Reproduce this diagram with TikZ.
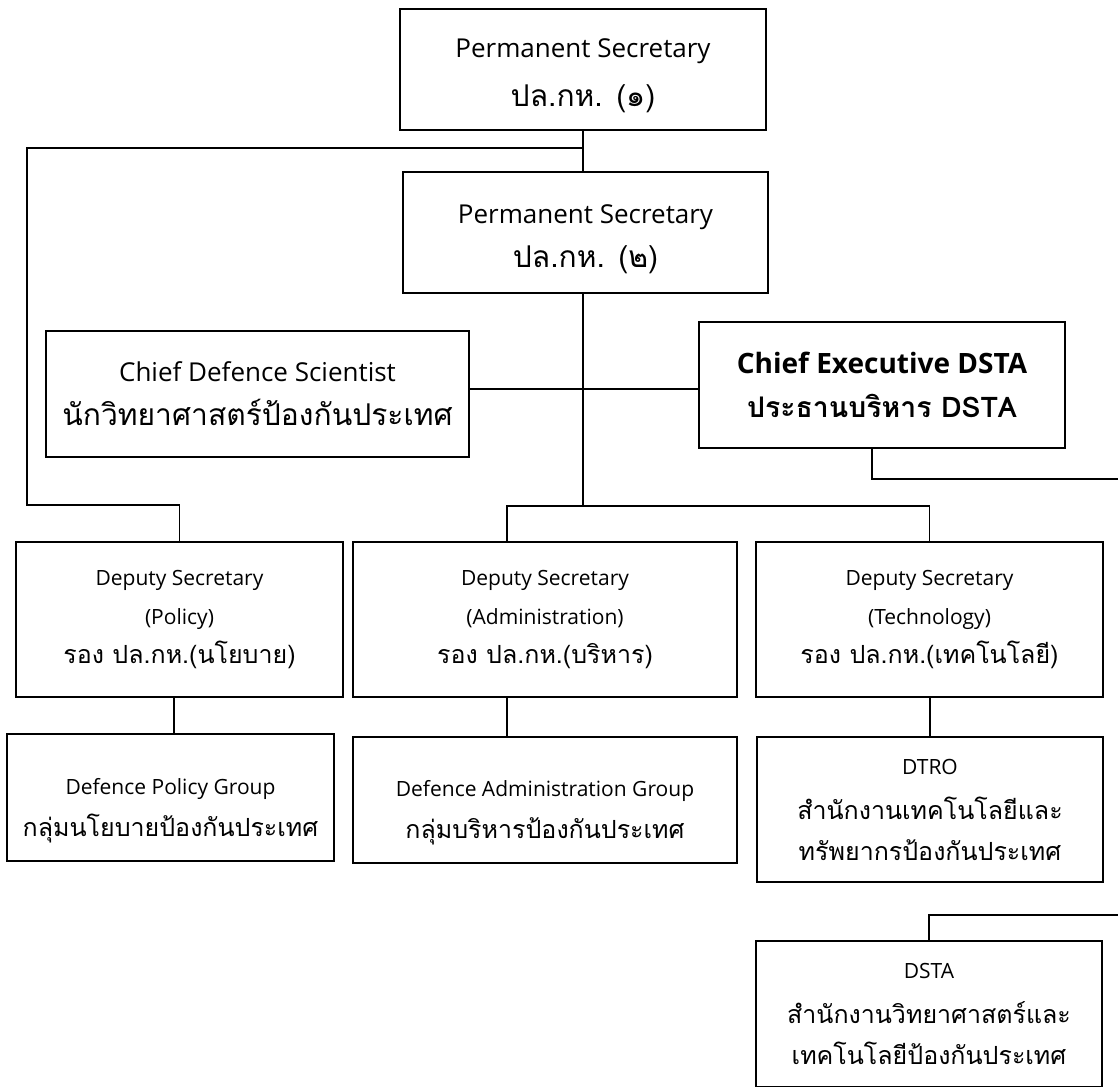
\documentclass[tikz,border=0pt]{standalone}
\usepackage{fontspec}
\setmainfont{Open Sans}
\newfontfamily\thaifont[Script=Thai]{Loma}
\usetikzlibrary{positioning}

% font sizes of the chart
\newcommand{\bigtxt}{\fontsize{13}{22}\selectfont}
\newcommand{\smalltxt}{\fontsize{10.5}{19.5}\selectfont}
\newcommand{\thaibig}[1]{{\thaifont\fontsize{15}{22}\selectfont #1}}
\newcommand{\thaismall}[1]{{\thaifont\fontsize{12.5}{19.5}\selectfont #1}}
\newcommand{\pushdown}{\rule{0pt}{21pt}}

\tikzset{
	orgbox/.style={draw=black,line width=0.9pt,align=center,inner sep=2pt},
	bigbox/.style={orgbox,font=\bigtxt},
	smallbox/.style={orgbox,font=\smalltxt},
	link/.style={line width=0.9pt}
}

\begin{document}
\begin{tikzpicture}[x=0.5pt,y=-0.5pt]
	\useasboundingbox (0,0) rectangle (1118,1086);
	\clip (0,0) rectangle (1118,1086);
	%% the top
	\node[bigbox,minimum width=183pt,minimum height=60.5pt] (ps1) at (583,69.5)
		{\rule{0pt}{16pt}Permanent Secretary\\[2.5pt] \thaibig{ปล.กห. (๑)}};
	\node[bigbox,minimum width=182.5pt,minimum height=60.5pt] (ps2) at (585.5,232.5)
		{\rule{0pt}{16pt}Permanent Secretary\\ \thaibig{ปล.กห. (๒)}};
	\node[bigbox,minimum width=211.5pt,minimum height=63pt] (cds) at (257.5,394)
		{Chief Defence Scientist\\ \thaibig{นักวิทยาศาสตร์ป้องกันประเทศ}};
	\node[bigbox,minimum width=183pt,minimum height=63pt,font=\fontsize{14}{22}\selectfont\bfseries] (ce) at (882,385)
		{Chief Executive DSTA\\ {\thaifont\fontsize{14.2}{22}\selectfont\bfseries ประธานบริหาร DSTA}};
	%% the deputies
	\node[smallbox,minimum width=163.5pt,minimum height=77.5pt] (dpol) at (179.5,619.5)
		{Deputy Secretary\\ (Policy)\\ \thaismall{รอง ปล.กห.(นโยบาย)}};
	\node[smallbox,minimum width=192pt,minimum height=77.5pt] (dadm) at (545,619.5)
		{Deputy Secretary\\ (Administration)\\ \thaismall{รอง ปล.กห.(บริหาร)}};
	\node[smallbox,minimum width=173.5pt,minimum height=77.5pt] (dtec) at (929.5,619.5)
		{Deputy Secretary\\ (Technology)\\ \thaismall{รอง ปล.กห.(เทคโนโลยี)}};
	%% the groups
	\node[smallbox,minimum width=163.5pt,minimum height=63.5pt] (gpol) at (170.5,797.5)
		{\pushdown Defence Policy Group\\[1.5pt] \thaismall{กลุ่มนโยบายป้องกันประเทศ}};
	\node[smallbox,minimum width=192pt,minimum height=63pt] (gadm) at (545,800)
		{\pushdown Defence Administration Group\\[1.5pt] \thaismall{กลุ่มบริหารป้องกันประเทศ}};
	\node[smallbox,minimum width=173pt,minimum height=72.5pt] (dtro) at (930,809.5)
		{DTRO\\[3pt] \thaismall{สำนักงานเทคโนโลยีและ}\\[1pt] \thaismall{ทรัพยากรป้องกันประเทศ}};
	\node[smallbox,minimum width=173pt,minimum height=73pt] (dsta) at (929,1014)
		{DSTA\\[3pt] \thaismall{สำนักงานวิทยาศาสตร์และ}\\[1pt] \thaismall{เทคโนโลยีป้องกันประเทศ}};

	% joints of the lines
	\coordinate (top) at (583,148);
	\coordinate (lcorner) at (27,505);
	\coordinate (mid) at (583,389);
	\coordinate (bar) at (583,506);
	\coordinate (ceout) at (1122,479);
	\coordinate (dstaout) at (1122,915);

	%% the lines
	\draw[link] (ps1.south) -- (ps1.south |- ps2.north);
	\draw[link] (top) -| (lcorner) -| (dpol.north);
	\draw[link] (bar |- ps2.south) -- (bar);
	\draw[link] ([xshift=-19pt]dadm.north) |- (bar) -| (dtec.north);
	\draw[link] (cds.east |- mid) -- (ce.west |- mid);
	\draw[link] ([xshift=-5pt]ce.south) |- (ceout);
	\draw[link] ([xshift=1.75pt]gpol.north) -- ([xshift=1.75pt]gpol.north |- dpol.south);
	\draw[link] ([xshift=-19pt]gadm.north) -- ([xshift=-19pt]dadm.south);
	\draw[link] (dtro.north) -- (dtro.north |- dtec.south);
	\draw[link] (dsta.north) |- (dstaout);
\end{tikzpicture}
\end{document}
